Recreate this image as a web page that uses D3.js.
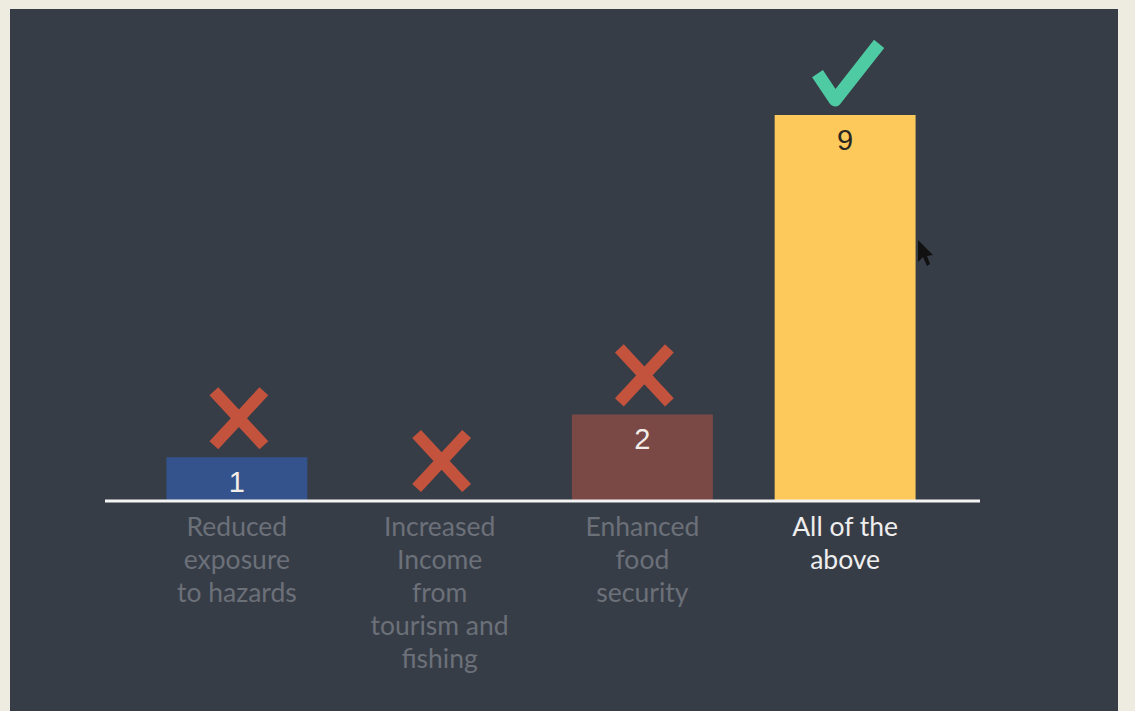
<!DOCTYPE html>
<html>
<head>
<meta charset="utf-8">
<script src="https://cdn.jsdelivr.net/npm/d3@7"></script>
<style>
    body { margin: 0; background: #eeebe0; }
    #chart { width: 1135px; height: 711px; }
    .cat-label { font-family: Lato, "Open Sans", sans-serif; font-size: 26.5px; }
    .val-label { font-family: "Liberation Sans", Arial, sans-serif; font-size: 29px; }
</style>
</head>
<body>
<div id="chart"></div>
<script>

// chart data
let categories = [
    ["Reduced", "exposure", "to hazards"],
    ["Increased", "Income", "from", "tourism and", "fishing"],
    ["Enhanced", "food", "security"],
    ["All of the", "above"]
];
let values = [1, 0, 2, 9];
let correct = [false, false, false, true];

let barColors = ["#34528b", "#34528b", "#7a4946", "#fec95b"];

let width = 1135, height = 711;

let svg = d3.select("#chart").append("svg")
    .attr("width", width)
    .attr("height", height);

// dark panel
svg.append("rect")
    .attr("x", 10)
    .attr("y", 9)
    .attr("width", 1108)
    .attr("height", height - 9)
    .attr("fill", "#373d47");

let ids = categories.map((d, i) => i);

let x = d3.scaleBand()
    .domain(ids)
    .range([135.5, 946.5])
    .paddingInner(0.305)
    .paddingOuter(0.1525);

let y = d3.scaleLinear()
    .domain([0, 9])
    .range([500, 115]);

// bars
svg.selectAll("rect.bar")
    .data(values)
    .enter()
    .append("rect")
    .attr("class", "bar")
    .attr("x", (d, i) => x(i))
    .attr("y", d => y(d))
    .attr("width", x.bandwidth())
    .attr("height", d => y(0) - y(d))
    .attr("fill", (d, i) => barColors[i]);

// value labels inside bars
svg.selectAll("text.val-label")
    .data(values.map((v, i) => ({v: v, i: i})).filter(d => d.v > 0))
    .enter()
    .append("text")
    .attr("class", "val-label")
    .attr("x", d => x(d.i) + x.bandwidth() / 2)
    .attr("y", d => y(d.v) + 35)
    .attr("text-anchor", "middle")
    .attr("fill", d => correct[d.i] ? "#2a2620" : "#f2ede8")
    .text(d => d.v);

// baseline
svg.append("line")
    .attr("x1", 105)
    .attr("x2", 980)
    .attr("y1", y(0) + 1)
    .attr("y2", y(0) + 1)
    .attr("stroke", "#f4f4f4")
    .attr("stroke-width", 3);

// category labels
let labels = svg.selectAll("text.cat-label")
    .data(categories)
    .enter()
    .append("text")
    .attr("class", "cat-label")
    .attr("text-anchor", "middle")
    .attr("fill", (d, i) => correct[i] ? "#eeeeee" : "#6b7079");

labels.selectAll("tspan")
    .data((d, i) => d.map(t => ({t: t, i: i})))
    .enter()
    .append("tspan")
    .attr("x", d => x(d.i) + x.bandwidth() / 2)
    .attr("y", (d, j) => 536 + j * 33)
    .text(d => d.t);

// marks above bars: cross or check
let marks = svg.selectAll("g.mark")
    .data(values)
    .enter()
    .append("g")
    .attr("class", "mark")
    .attr("transform", (d, i) => "translate(" + (x(i) + x.bandwidth() / 2 + 2) + "," + (y(d) - 39) + ")");

marks.filter((d, i) => !correct[i])
    .append("path")
    .attr("d", "M-25,-27L25,27M25,-27L-25,27")
    .attr("stroke", "#c4533d")
    .attr("stroke-width", 12)
    .attr("fill", "none");

marks.filter((d, i) => correct[i])
    .append("path")
    .attr("d", "M-26,3L-12,24L28,-27")
    .attr("stroke", "#4fcba3")
    .attr("stroke-width", 13)
    .attr("stroke-linecap", "square")
    .attr("stroke-linejoin", "round")
    .attr("fill", "none");

// mouse pointer
svg.append("path")
    .attr("d", "M918,240L918,262L923,257L927,266L930,264L927,256L933,255Z")
    .attr("fill", "#111111");

</script>
</body>
</html>
